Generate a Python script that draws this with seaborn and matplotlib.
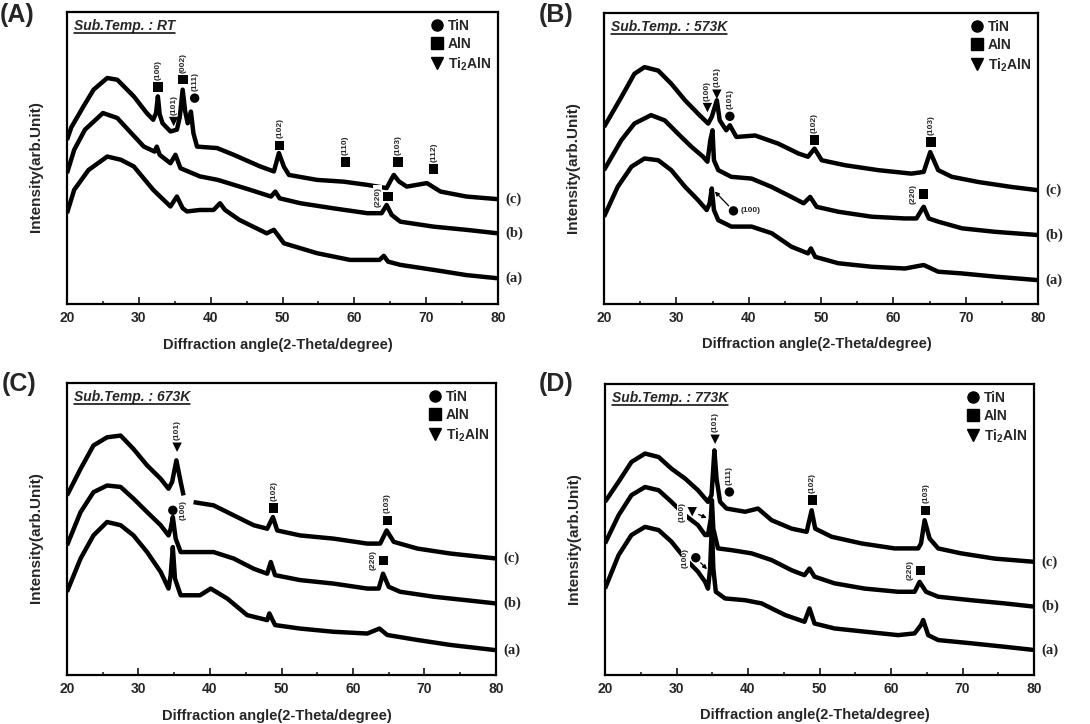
import numpy as np
import pandas as pd
import matplotlib
matplotlib.use("Agg")
import matplotlib.pyplot as plt
import seaborn as sns
from matplotlib.lines import Line2D
from matplotlib.ticker import MultipleLocator

sns.set_theme(style="ticks")
plt.rcParams['font.family'] = ['Liberation Sans', 'DejaVu Sans']
plt.rcParams['mathtext.fontset'] = 'custom'
plt.rcParams['mathtext.rm'] = 'Liberation Sans:bold'
plt.rcParams['mathtext.it'] = 'Liberation Sans:bold:italic'
plt.rcParams['mathtext.bf'] = 'Liberation Sans:bold'

# ---------------- data (intensity in arbitrary units, 0-100 of the frame) -------------
# Panel A  (RT)
A_c_x = [20, 20.6, 22.3, 23.7, 25.6, 27, 29.3, 31.1, 32.0, 32.4, 32.65, 32.9, 33.3, 34.4, 35.3, 35.7, 36.1, 36.45, 36.8, 37.25, 37.6, 38.1, 40.9, 43.2, 46.9, 48.8, 49.5, 50.2, 50.9, 54.8, 58.5, 61.8, 64.5, 65.1, 65.5, 66.2, 67.3, 70.1, 72, 75.6, 80]
A_c_y = [56.2, 60.5, 67.7, 73.4, 77.4, 76.8, 71.1, 65.4, 63.1, 65.5, 71.1, 65.0, 61.9, 59.1, 59.7, 64.0, 73.4, 66.0, 61.9, 65.9, 58.5, 53.9, 53.4, 51.1, 47.1, 45.4, 51.7, 47.0, 44.2, 42.5, 41.9, 40.8, 39.7, 42.5, 44.2, 42.0, 40.2, 41.4, 38.5, 36.8, 35.9]
A_b_x = [20, 21, 22.5, 25, 27, 28.5, 30.7, 32.2, 32.5, 32.9, 34.4, 35.1, 35.8, 38.5, 41, 45.5, 48.4, 49.0, 49.6, 52.5, 57, 61.8, 63.8, 64.5, 65.2, 66.4, 71, 75.6, 80]
A_b_y = [44.8, 52.8, 59.7, 65.4, 63.7, 59.7, 53.9, 52.2, 53.9, 51.1, 48.2, 51.1, 46.5, 43.7, 42.5, 39.1, 36.8, 38.5, 36.2, 34.5, 32.8, 31.1, 31.1, 33.9, 30.5, 28.2, 26.5, 25.4, 24.2]
A_a_x = [20, 21, 23, 25.6, 27.5, 29.3, 32, 34.4, 35.3, 36.1, 36.7, 38.5, 40.4, 41.3, 42, 44, 47.8, 48.8, 50.2, 54.8, 59.4, 63.5, 64.1, 64.7, 66.4, 71, 75.6, 80]
A_a_y = [31.1, 39.1, 45.9, 50.5, 49.4, 47.1, 39.1, 33.4, 36.8, 32.8, 31.7, 32.2, 32.2, 34.5, 32.2, 28.8, 24.2, 25.4, 20.8, 17.4, 15.1, 15.1, 16.5, 14.5, 13.4, 11.7, 9.9, 8.8]

# Panel B  (573K)
B_c_x = [20, 22.4, 24.2, 25.6, 27.5, 29.3, 31.2, 33, 34.4, 34.9, 35.6, 36.0, 36.9, 37.4, 38.3, 40.9, 44.1, 46.9, 48.2, 49.1, 50.1, 53.3, 57.9, 62.5, 64.2, 65.1, 66.2, 68.1, 71.8, 76.4, 80]
B_c_y = [60.8, 71.1, 79.1, 81.4, 80.2, 75.7, 70.0, 65.4, 62.0, 64.3, 70.0, 63.1, 59.7, 61.4, 57.4, 57.9, 55.1, 51.7, 50.6, 53.4, 49.4, 47.7, 46.0, 44.8, 45.4, 52.2, 46.0, 43.7, 41.9, 40.2, 39.1]
B_b_x = [20, 22.4, 24.2, 26.5, 28.4, 30.2, 32.1, 33.7, 34.3, 34.7, 35.0, 35.2, 35.8, 37.6, 40.4, 43.2, 45.9, 47.6, 48.5, 49.4, 52.4, 57, 61.6, 63.2, 63.9, 64.2, 64.9, 66.2, 69.5, 74.1, 80]
B_b_y = [46.0, 56.3, 62.0, 64.9, 63.1, 58.6, 54.0, 50.6, 48.9, 56.3, 59.7, 49.4, 46.0, 43.7, 43.1, 40.2, 36.8, 34.6, 36.8, 33.4, 31.7, 30.0, 29.4, 29.4, 32.3, 33.4, 29.4, 28.3, 26.0, 24.8, 23.7]
B_a_x = [20, 21.9, 23.8, 25.6, 27.5, 29.3, 31.2, 33, 34.2, 34.6, 34.9, 35.2, 35.8, 37.6, 40.4, 43.2, 45.9, 48.2, 48.6, 49.2, 52.4, 57, 61.6, 64.2, 66.2, 69.5, 74.1, 80]
B_a_y = [30.0, 40.3, 47.2, 50.0, 49.4, 46.0, 40.3, 35.7, 32.3, 34.6, 39.7, 32.3, 28.8, 26.6, 26.6, 24.3, 19.7, 17.4, 19.1, 16.2, 14.0, 12.8, 12.2, 13.4, 11.1, 10.5, 9.4, 8.2]

# Panel C  (673K) - curve (c) is hidden behind a label between the two pieces
C_c1_x = [20, 21.9, 23.7, 25.6, 27.5, 29.3, 31.2, 33.1, 34.2, 34.7, 35.3, 35.9, 36.3]
C_c1_y = [61.5, 70.6, 78.6, 81.4, 82.0, 77.4, 71.8, 67.2, 63.8, 66.1, 73.5, 66.1, 61.5]
C_c2_x = [37.7, 40.5, 43.3, 46.1, 48.0, 48.8, 49.4, 52.6, 57.3, 62.0, 63.8, 64.7, 65.7, 69.0, 73.6, 80]
C_c2_y = [59.2, 58.1, 54.7, 51.3, 50.1, 54.1, 49.5, 47.8, 46.7, 45.0, 45.0, 49.5, 45.6, 43.3, 41.6, 39.9]
C_b_x = [20, 21.9, 23.7, 25.6, 27.5, 29.3, 31.2, 33.1, 34.2, 34.5, 34.8, 35.2, 35.9, 38.6, 40.5, 43.3, 46.1, 48.0, 48.5, 49.1, 52.6, 57.3, 62.0, 63.6, 64.2, 65.0, 66.6, 71.3, 75.9, 80]
C_b_y = [44.4, 55.8, 62.6, 64.9, 64.4, 60.4, 55.8, 51.3, 47.8, 50.1, 54.1, 46.7, 42.1, 42.1, 42.1, 39.9, 36.4, 34.7, 38.7, 34.2, 32.5, 31.3, 29.6, 29.6, 34.7, 30.2, 28.5, 26.8, 25.6, 24.5]
C_a_x = [20, 21.9, 23.7, 25.6, 27.5, 29.3, 31.2, 33.1, 34.2, 34.5, 34.8, 35.1, 35.9, 38.6, 40.1, 42.4, 45.2, 48.0, 48.3, 49.1, 52.6, 57.3, 62.0, 63.7, 64.8, 69.0, 73.6, 80]
C_a_y = [28.5, 39.9, 47.8, 52.4, 51.3, 47.8, 42.1, 35.3, 29.6, 34.2, 43.8, 33.0, 27.3, 27.3, 29.6, 26.2, 20.5, 18.8, 21.1, 17.1, 15.9, 14.8, 14.2, 15.9, 13.7, 12.0, 10.3, 8.5]

# Panel D  (773K)
D_c_x = [20, 21.9, 23.7, 25.6, 27.5, 29.3, 31.2, 33, 34.4, 34.9, 35.3, 35.6, 36.1, 37, 39.6, 41.4, 43.3, 46.1, 48.2, 48.9, 49.4, 51.7, 55.9, 60.5, 63.8, 64.2, 64.7, 65.4, 66.6, 69.8, 74.5, 80]
D_c_y = [59.5, 66.4, 73.2, 76.1, 74.9, 70.9, 67.5, 63.5, 59.5, 61.8, 77.2, 67.5, 59.5, 57.2, 56.1, 57.2, 53.2, 50.3, 49.2, 56.6, 50.3, 47.5, 45.2, 43.5, 43.5, 45.2, 53.2, 46.9, 43.5, 41.8, 40.0, 38.9]
D_b_x = [20, 21.9, 23.7, 25.6, 27.5, 29.3, 31.2, 33, 34.0, 34.4, 34.8, 34.95, 35.15, 35.8, 37.7, 40.5, 43.3, 46.1, 47.9, 48.6, 49.3, 52.1, 56.3, 61, 63.3, 64.0, 64.9, 66.6, 71.2, 75.9, 80]
D_b_y = [45.2, 54.9, 61.8, 64.6, 63.5, 59.5, 54.9, 51.5, 48.1, 48.1, 53.8, 60.1, 50.3, 43.5, 42.9, 41.8, 39.5, 36.0, 34.3, 36.6, 33.8, 31.5, 29.7, 28.6, 28.6, 32.0, 28.6, 26.9, 25.7, 24.6, 23.5]
D_a_x = [20, 21.9, 23.7, 25.6, 27.5, 29.3, 31.2, 33, 34.0, 34.4, 34.7, 34.95, 35.15, 35.5, 36.8, 39.6, 41.9, 45.2, 47.9, 48.6, 49.3, 52.1, 56.3, 61, 63.3, 64.2, 64.5, 65.2, 66.6, 71.2, 75.9, 80]
D_a_y = [29.7, 41.2, 48.1, 50.9, 49.8, 45.8, 40.0, 35.5, 32.0, 29.7, 36.6, 51.5, 36.6, 28.6, 26.3, 25.7, 24.6, 20.6, 18.3, 22.9, 17.7, 16.0, 14.9, 13.7, 14.3, 17.2, 18.9, 13.7, 12.0, 10.9, 9.7, 8.6]

# Peak markers: phase, position, Miller index, label side, arrow target
A_pk_phase = ['AlN', 'Ti2AlN', 'AlN', 'TiN', 'AlN', 'AlN', 'AlN', 'AlN', 'AlN']
A_pk_x = [32.67, 34.85, 36.15, 37.77, 49.6, 58.75, 66.08, 71.05, 64.7]
A_pk_y = [74.3, 62.5, 76.8, 70.5, 54.3, 48.6, 48.6, 46.2, 36.8]
A_pk_hkl = ['(100)', '(101)', '(002)', '(111)', '(102)', '(110)', '(103)', '(112)', '(220)']
A_pk_side = ['top', 'top', 'top', 'top', 'top', 'top', 'top', 'top', 'left']
A_pk_arrow = [None] * 9

B_pk_phase = ['Ti2AlN', 'Ti2AlN', 'TiN', 'AlN', 'AlN', 'AlN', 'TiN']
B_pk_x = [34.3, 35.6, 37.4, 49.1, 65.2, 64.2, 37.9]
B_pk_y = [67.5, 72.1, 64.5, 56.3, 55.7, 37.8, 32.0]
B_pk_hkl = ['(100)', '(101)', '(101)', '(102)', '(103)', '(220)', '(100)']
B_pk_side = ['top', 'top', 'top', 'top', 'top', 'left', 'right_h']
B_pk_arrow = [None, None, None, None, None, None, (35.2, 39.0)]

C_pk_phase = ['Ti2AlN', 'TiN', 'AlN', 'AlN', 'AlN']
C_pk_x = [35.4, 34.8, 48.9, 64.8, 64.3]
C_pk_y = [78.0, 56.4, 57.2, 53.0, 39.3]
C_pk_hkl = ['(101)', '(100)', '(102)', '(103)', '(220)']
C_pk_side = ['top', 'right', 'top', 'top', 'left']
C_pk_arrow = [None] * 5

D_pk_phase = ['Ti2AlN', 'TiN', 'AlN', 'AlN', 'AlN', 'Ti2AlN', 'TiN']
D_pk_x = [35.4, 37.4, 49.0, 64.85, 64.1, 32.2, 32.7]
D_pk_y = [81.0, 62.9, 60.1, 56.6, 36.0, 56.1, 40.3]
D_pk_hkl = ['(101)', '(111)', '(102)', '(103)', '(220)', '(100)', '(100)']
D_pk_side = ['top', 'top', 'top', 'top', 'left', 'left', 'left']
D_pk_arrow = [None, None, None, None, None, (34.4, 53.8), (34.4, 36.0)]

panel_letters = ['(A)', '(B)', '(C)', '(D)']
temp_labels = ['Sub.Temp. : RT', 'Sub.Temp. : 573K', 'Sub.Temp. : 673K', 'Sub.Temp. : 773K']
curve_names = ['(c)', '(b)', '(a)']
phase_labels = ['TiN', 'AlN', 'Ti$_2$AlN']

# ---------------- figure ----------------
W, H = 1090, 724
fig = plt.figure(figsize=(W / 100, H / 100), dpi=100)
fig.patch.set_facecolor('white')

rects = [(67, 12, 498, 304), (604, 13, 1038, 304), (67, 383, 496, 675), (605, 384, 1034, 675)]
letter_pos = [(0, 3), (539, 3), (2, 372), (539, 372)]

panels = [
    ([('(c)', [(A_c_x, A_c_y)]), ('(b)', [(A_b_x, A_b_y)]), ('(a)', [(A_a_x, A_a_y)])],
     (A_pk_phase, A_pk_x, A_pk_y, A_pk_hkl, A_pk_side, A_pk_arrow)),
    ([('(c)', [(B_c_x, B_c_y)]), ('(b)', [(B_b_x, B_b_y)]), ('(a)', [(B_a_x, B_a_y)])],
     (B_pk_phase, B_pk_x, B_pk_y, B_pk_hkl, B_pk_side, B_pk_arrow)),
    ([('(c)', [(C_c1_x, C_c1_y), (C_c2_x, C_c2_y)]), ('(b)', [(C_b_x, C_b_y)]), ('(a)', [(C_a_x, C_a_y)])],
     (C_pk_phase, C_pk_x, C_pk_y, C_pk_hkl, C_pk_side, C_pk_arrow)),
    ([('(c)', [(D_c_x, D_c_y)]), ('(b)', [(D_b_x, D_b_y)]), ('(a)', [(D_a_x, D_a_y)])],
     (D_pk_phase, D_pk_x, D_pk_y, D_pk_hkl, D_pk_side, D_pk_arrow)),
]

marker_map = {'TiN': 'o', 'AlN': 's', 'Ti2AlN': 'v'}
sub_texts = []

for i, (curves, peaks) in enumerate(panels):
    l, t, r, b = rects[i]
    ax = fig.add_axes([l / W, 1 - b / H, (r - l) / W, (b - t) / H])

    rows = []
    for name, segs in curves:
        for k, (xs, ys) in enumerate(segs):
            for x, y in zip(xs, ys):
                rows.append((x, y, f"{name}{k}"))
    df = pd.DataFrame(rows, columns=['angle', 'intensity', 'seg'])
    sns.lineplot(data=df, x='angle', y='intensity', units='seg', estimator=None,
                 sort=False, color='black', lw=3.2, ax=ax, legend=False,
                 solid_joinstyle='round', solid_capstyle='butt')

    # curve labels at the right end
    for name, segs in curves:
        last_y = segs[-1][1][-1]
        ax.annotate(name, xy=(80, last_y), xytext=(5, 0), textcoords='offset points',
                    ha='left', va='center', fontfamily='Liberation Serif',
                    fontweight='bold', fontsize=10.5, annotation_clip=False)

    ph, px, py, hkl, side, arrow = peaks
    pdf = pd.DataFrame({'angle': px, 'intensity': py, 'phase': ph})
    sns.scatterplot(data=pdf, x='angle', y='intensity', style='phase', markers=marker_map,
                    color='black', s=46, linewidth=0, legend=False, ax=ax, zorder=6)
    for j in range(len(px)):
        s = side[j]
        if s == 'top':
            ax.annotate(hkl[j], (px[j], py[j]), xytext=(0, 5), textcoords='offset points',
                        rotation=90, ha='center', va='bottom', fontsize=6, fontweight='bold', zorder=7)
        elif s == 'left':
            ax.annotate(hkl[j], (px[j], py[j]), xytext=(-5, 0), textcoords='offset points',
                        rotation=90, ha='right', va='center', fontsize=6, fontweight='bold', zorder=7,
                        bbox=dict(boxstyle='square,pad=0.15', fc='white', ec='none'))
        elif s == 'right':
            ax.annotate(hkl[j], (px[j], py[j]), xytext=(5, 0), textcoords='offset points',
                        rotation=90, ha='left', va='center', fontsize=6, fontweight='bold', zorder=7,
                        bbox=dict(boxstyle='square,pad=0.15', fc='white', ec='none'))
        elif s == 'right_h':
            ax.annotate(hkl[j], (px[j], py[j]), xytext=(5, 0), textcoords='offset points',
                        rotation=0, ha='left', va='center', fontsize=6, fontweight='bold', zorder=7)
        if arrow[j] is not None:
            ax.annotate('', xy=arrow[j], xytext=(px[j], py[j]),
                        arrowprops=dict(arrowstyle='-|>', color='black', lw=0.9,
                                        shrinkA=5, shrinkB=1, mutation_scale=6), zorder=7)

    # legend
    handles = [Line2D([], [], marker=marker_map[k], ls='', color='black', ms=8, label=lab)
               for k, lab in zip(['TiN', 'AlN', 'Ti2AlN'], phase_labels)]
    ax.legend(handles=handles, loc='upper right', frameon=False,
              prop=dict(weight='bold', size=10), handlelength=0.8, handletextpad=0.35,
              labelspacing=0.3, borderaxespad=0.3, borderpad=0.2)

    txt = ax.text(0.016, 0.975, temp_labels[i], transform=ax.transAxes, ha='left', va='top',
                  fontsize=10, fontweight='bold', fontstyle='italic')
    sub_texts.append(txt)

    ax.set_xlim(20, 80)
    ax.set_ylim(0, 100)
    ax.set_xticks(range(20, 81, 10))
    ax.xaxis.set_minor_locator(MultipleLocator(5))
    ax.set_yticks([])
    ax.tick_params(axis='x', which='major', direction='in', length=5, width=1.3,
                   labelsize=10, pad=5, top=False)
    ax.tick_params(axis='x', which='minor', direction='in', length=2.5, width=1.2, top=False)
    for lbl in ax.get_xticklabels():
        lbl.set_fontweight('bold')
    for sp in ax.spines.values():
        sp.set_linewidth(1.6)
        sp.set_color('black')
    ax.set_xlabel('Diffraction angle(2-Theta/degree)', fontsize=10.5, fontweight='bold')
    ax.xaxis.set_label_coords(0.49, -0.115)
    ax.set_ylabel('Intensity(arb.Unit)', fontsize=11, fontweight='bold')
    ax.yaxis.set_label_coords(-0.055, 0.47)
    ax.set_facecolor('white')

    lx, ly = letter_pos[i]
    fig.text(lx / W, 1 - ly / H, panel_letters[i], ha='left', va='top',
             fontsize=18, fontweight='bold')

# underline the substrate temperature labels
fig.canvas.draw()
renderer = fig.canvas.get_renderer()
for txt in sub_texts:
    bb = txt.get_window_extent(renderer)
    yline = (bb.y0 + 0.5) / H
    fig.add_artist(Line2D([bb.x0 / W, bb.x1 / W], [yline, yline], color='black', lw=1.1))

fig.savefig('out.png', dpi=100, facecolor='white')
